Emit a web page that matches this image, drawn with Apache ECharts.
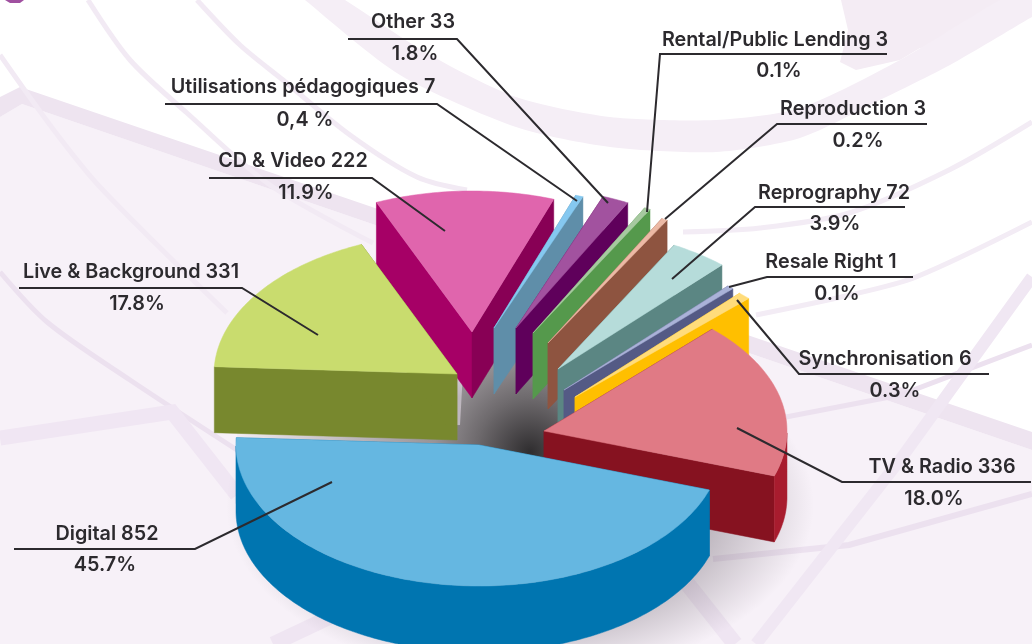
<!DOCTYPE html>
<html>
<head>
<meta charset="utf-8">
<style>
  html, body { margin: 0; padding: 0; background: #fff; }
  #chart { width: 1032px; height: 644px; }
</style>
<script src="https://cdn.jsdelivr.net/npm/echarts@6/dist/echarts.min.js"></script>
</head>
<body>
<div id="chart"></div>
<script>
// chart data
const categories = ['Digital', 'Live & Background', 'CD & Video', 'Utilisations pédagogiques', 'Other',
  'Rental/Public Lending', 'Reproduction', 'Reprography', 'Resale Right', 'Synchronisation', 'TV & Radio'];
const values = [852, 331, 222, 7, 33, 3, 3, 72, 1, 6, 336];
const shares = ['45.7%', '17.8%', '11.9%', '0,4 %', '1.8%', '0.1%', '0.2%', '3.9%', '0.1%', '0.3%', '18.0%'];

// look of the slices
const topColors = ['#65b7e1', '#c9dc6e', '#e065ad', '#85c8f0', '#a2529f', '#a7c9a0', '#ecb9a5', '#b6dcda', '#aab2d8', '#ffdc7b', '#e07a85'];
const startWallColors = ['#0075b0', '#78882e', '#a60066', '#5f8ea9', '#5f005b', '#55994c', '#8e5440', '#5b8683', '#545a85', '#ffbf00', '#861220'];
const endWallColors = ['#0075b0', '#78882e', '#880055', '#5f8ea9', '#5f005b', '#55994c', '#8e5440', '#5b8683', '#545a85', '#ffbf00', '#861220'];
const outerColors = ['#0075b0', '#78882e', '#880055', '#5f8ea9', '#5f005b', '#55994c', '#8e5440', '#5b8683', '#545a85', '#ffbf00', '#a81c2e'];

// where each exploded slice has its tip, and the narrowest it may be drawn
const tips = [[479, 445], [457, 374], [472, 332], [494, 328], [516, 328], [533, 333], [548, 343], [558, 369], [564, 390], [575, 397], [544, 431]];
const minSweeps = [0, 0, 0, 1.8, 0, 1.4, 1.4, 0, 1.6, 3, 0];
const paintOrder = [2, 3, 4, 5, 6, 7, 8, 9, 10, 1, 0];
const RX = 243, RY = 141, DEPTH = 66;
const START_ANGLE = 18.6;

// [text centre x, name y, share centre x, share y, leader points]
const labelLayout = [
  [107, 534, 105, 565, [[14, 549], [195, 549], [332, 482]]],
  [131, 272, 137, 304, [[19, 288], [242, 288], [318, 335]]],
  [293, 161, 306, 193, [[209, 178], [372, 178], [445, 231]]],
  [303, 87, 305, 120, [[165, 104], [437, 104], [577, 201]]],
  [413, 22, 415, 54, [[348, 39], [457, 39], [608, 203]]],
  [775, 40, 779, 71, [[887, 54], [660, 54], [647, 212]]],
  [853, 109, 858, 141, [[927, 124], [777, 124], [665, 219]]],
  [834, 193, 835, 224, [[905, 207], [755, 207], [672, 279]]],
  [831, 262, 837, 294, [[913, 277], [767, 277], [729, 287]]],
  [885, 359, 895, 391, [[989, 374], [799, 374], [737, 300]]],
  [942, 467, 934, 499, [[1031, 482], [842, 482], [737, 428]]]
];

const total = values.reduce((a, b) => a + b, 0);
const angles = [];
let cum = 0;
values.forEach((v, i) => {
  const a0 = echarts.number.linearMap(cum, [0, total], [START_ANGLE, START_ANGLE + 360]);
  cum += v;
  const a1 = echarts.number.linearMap(cum, [0, total], [START_ANGLE, START_ANGLE + 360]);
  angles[i] = [a0, a1];
});

function rimPoint(tip, deg, dy) {
  const r = deg * Math.PI / 180;
  return [tip[0] + RX * Math.cos(r), tip[1] + RY * Math.sin(r) + (dy || 0)];
}

function renderSlice(params, api) {
  const idx = api.value(0);
  const a0 = api.value(1);
  const a1 = Math.max(api.value(2), a0 + minSweeps[idx]);
  const tip = tips[idx];
  const poly = (points, fill) => ({
    type: 'polygon',
    shape: { points },
    style: { fill, stroke: fill, lineWidth: 0.5 }
  });
  const wall = (deg, fill) => poly([tip, rimPoint(tip, deg), rimPoint(tip, deg, DEPTH), [tip[0], tip[1] + DEPTH]], fill);
  const children = [wall(a0, startWallColors[idx]), wall(a1, endWallColors[idx])];

  // curved outer wall, only where the rim faces the viewer
  const front = [];
  for (let d = a0; d <= a1; d += 1) {
    const n = ((d % 360) + 360) % 360;
    if (n <= 180) front.push(d);
  }
  if (a1 % 360 <= 180) front.push(a1);
  if (front.length > 1) {
    const upper = front.map(d => rimPoint(tip, d));
    const lower = front.map(d => rimPoint(tip, d, DEPTH)).reverse();
    children.push(poly(upper.concat(lower), outerColors[idx]));
  }

  const top = [tip];
  for (let d = a0; d < a1; d += 1) top.push(rimPoint(tip, d));
  top.push(rimPoint(tip, a1));
  children.push(poly(top, topColors[idx]));
  return { type: 'group', children };
}

const backdrop = [
  { type: 'polygon', shape: { points: [[0, 117], [22, 104], [1032, 450], [1032, 644], [0, 644]] }, style: { fill: '#f7f1f8' } },
  { type: 'polygon', shape: { points: [[0, 97], [20, 87], [1032, 432], [1032, 450], [22, 104], [0, 117]] }, style: { fill: '#eee4f0' } },
  { type: 'polygon', shape: { points: [[841, 0], [848, 30], [840, 62], [856, 70], [900, 60], [920, 48], [955, 45], [1000, 8], [1010, 0]] }, style: { fill: '#f4ecf4' } },
  { type: 'polygon', shape: { points: [[5, 0], [24, 0], [20, 3], [10, 3]] }, style: { fill: '#a050a0' } },
  { type: 'polygon', shape: { smooth: 0.25, points: [[280, -40], [345, 0], [430, 55], [516, 97], [610, 117], [716, 120], [800, 108], [900, 60], [1000, 0], [1080, -40], [1080, -10], [1032, 17], [950, 65], [880, 100], [800, 138], [716, 152], [610, 147], [516, 127], [400, 75], [305, 0], [260, -40]] }, style: { fill: '#f5eef6' } }
];
const bands = [
  [[[0, 272], [47, 322], [130, 380], [237, 450]], '#ece1ef', 5],
  [[[0, 55], [50, 125], [100, 187], [227, 313]], '#f2eaf4', 5],
  [[[88, 0], [130, 60], [187, 113], [270, 185], [373, 243]], '#f2eaf4', 5],
  [[[197, 0], [240, 45], [283, 80], [350, 135], [417, 177], [467, 190]], '#f2eaf4', 5],
  [[[1032, 122], [949, 170], [849, 213], [760, 228], [683, 232]], '#f3ecf5', 5],
  [[[1032, 222], [916, 277], [850, 295], [756, 315]], '#f3ecf5', 5],
  [[[1032, 345], [900, 395], [786, 417]], '#ece1ef', 5],
  [[[1032, 494], [849, 545], [713, 559]], '#ece1ef', 6],
  [[[1032, 277], [900, 460], [756, 644]], '#f0e7f3', 12],
  [[[686, 582], [735, 644]], '#efe5f2', 16],
  [[[0, 438], [172, 412], [237, 495]], '#f0e6f3', 15],
  [[[273, 644], [345, 610]], '#efe5f2', 15]
].map(b => ({
  type: 'polyline',
  shape: { points: b[0], smooth: b[0].length > 3 ? 0.3 : 0 },
  style: { fill: 'none', stroke: b[1], lineWidth: b[2] }
}));

const shadow = {
  type: 'circle',
  x: 520,
  y: 505,
  scaleX: 1.68,
  shape: { cx: 0, cy: 0, r: 175 },
  style: {
    fill: new echarts.graphic.RadialGradient(0.5, 0.5, 0.5, [
      { offset: 0.65, color: 'rgba(80,70,80,0.34)' },
      { offset: 1, color: 'rgba(80,70,80,0)' }
    ])
  }
};

const hub = {
  type: 'polygon',
  shape: { points: [[237, 432], [460, 425], [465, 335], [570, 330], [610, 430], [545, 510], [480, 450], [237, 440]] },
  style: {
    fill: new echarts.graphic.RadialGradient(530, 452, 300, [
      { offset: 0, color: '#2f2d2f' },
      { offset: 0.18, color: '#6e6a6d' },
      { offset: 0.32, color: '#989397' },
      { offset: 1, color: '#f5eff5' }
    ], true)
  }
};

const labelFont = { fontFamily: 'Inter', fontWeight: 600, fontSize: 19.8, fill: '#2c2a2e', align: 'center', verticalAlign: 'middle' };
const annotations = [];
categories.forEach((name, i) => {
  const l = labelLayout[i];
  annotations.push({ type: 'text', z: 100, x: l[0], y: l[1], style: Object.assign({}, labelFont, { text: name + ' ' + values[i] }) });
  annotations.push({ type: 'text', z: 100, x: l[2], y: l[3], style: Object.assign({}, labelFont, { text: shares[i] }) });
  annotations.push({ type: 'polyline', z: 100, shape: { points: l[4] }, style: { fill: 'none', stroke: '#2c2a2e', lineWidth: 2 } });
});

const chart = echarts.init(document.getElementById('chart'), null, { renderer: 'canvas' });
chart.setOption({
  animation: false,
  backgroundColor: '#fff',
  graphic: {
    elements: [
      { type: 'group', silent: true, children: backdrop.concat(bands, [shadow, hub]) },
      { type: 'group', silent: true, children: annotations }
    ]
  },
  series: [{
    type: 'custom',
    coordinateSystem: 'none',
    z: 10,
    silent: true,
    renderItem: renderSlice,
    data: paintOrder.map(i => [i, angles[i][0], angles[i][1]])
  }]
});
</script>
</body>
</html>
